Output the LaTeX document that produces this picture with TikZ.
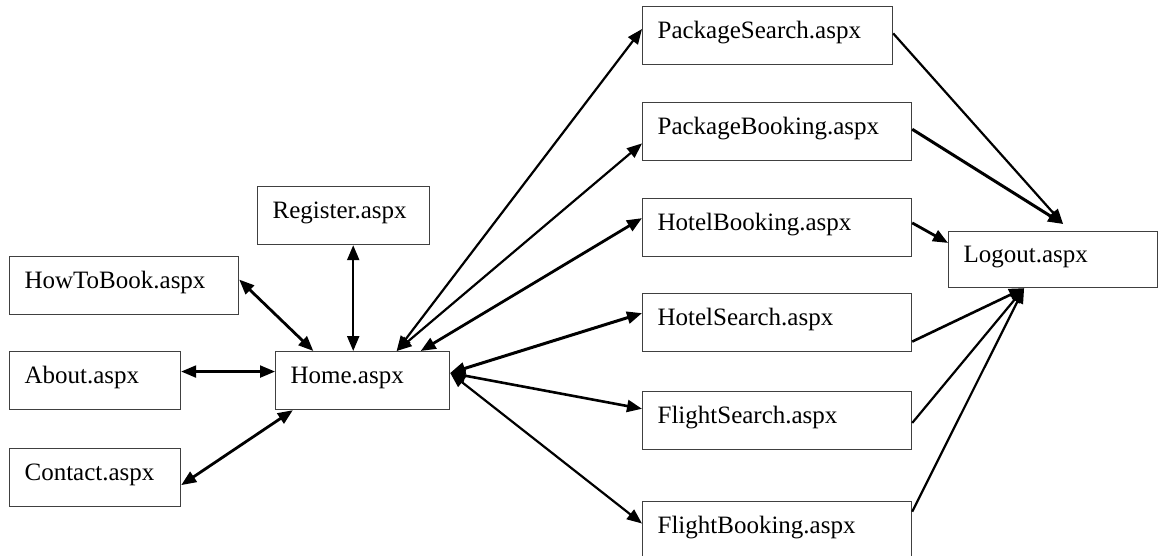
\documentclass[tikz,border=0pt]{standalone}
\usepackage{fontspec}
\setmainfont{Liberation Serif}
\usepackage{tikz}
\usetikzlibrary{arrows.meta}

\begin{document}
\begin{tikzpicture}[x=1pt,y=-1pt,>={Triangle[length=15pt,width=12pt]},line width=2.2pt,
	webpage/.style={draw=black!75,line width=1.2pt,anchor=north west,minimum height=58pt,
		inner xsep=15pt,inner ysep=0pt,text width=#1,align=left,text height=18pt,text depth=13pt,
		font=\fontsize{25}{30}\selectfont}]
  \useasboundingbox (0,0) rectangle (1159,556);

  			\node[webpage=142pt] (register) at (257,186) {Register.aspx};
  			\node[webpage=199pt] (howto)    at (9,256)   {HowToBook.aspx};
  			\node[webpage=141pt] (about)    at (9,351)   {About.aspx};
  			\node[webpage=144pt] (home)     at (275,351) {Home.aspx};
  			\node[webpage=141pt] (contact)  at (9,448)   {Contact.aspx};

  			\node[webpage=220pt] (pksearch) at (642,6)   {PackageSearch.aspx};
  			\node[webpage=239pt] (pkbook)   at (642,102) {PackageBooking.aspx};
  			\node[webpage=239pt] (htbook)   at (642,198) {HotelBooking.aspx};
  			\node[webpage=239pt] (htsearch) at (642,293) {HotelSearch.aspx};
  			\node[webpage=239pt] (flsearch) at (642,391) {FlightSearch.aspx};
  			\node[webpage=239pt] (flbook)   at (642,501) {FlightBooking.aspx};
  			\node[webpage=179pt,minimum height=56pt] (logout) at (948,231) {Logout.aspx};

  			\path[<->] (howto.3) edge[line width=2.8pt] (home.149)
        	         (register.-72) edge (register.-72 |- home.north)
        	         (about.6) edge (about.6 -| home.west)
        	         (contact.-5) edge[line width=2.8pt] (home.-157)
        	         (home.41) edge (pksearch.177)
        	         	 edge (pkbook.185)
        	         (home.27) edge[line width=2.8pt] (htbook.176)
        	         (home.5) edge[line width=3pt] (htsearch.176)
        	         	 edge[line width=2.6pt] (flsearch.175)
        	         	 edge (flbook.177);

  			\path[->] (pksearch.1) edge ([xshift=10pt,yshift=7pt]logout.north)
        	         (pkbook.1) edge[line width=3pt] ([xshift=10pt,yshift=7pt]logout.north)
        	         (htbook.2) edge[line width=2.8pt] (logout.171)
        	         (htsearch.-8) edge[line width=2.6pt] ([xshift=-29pt]logout.south)
        	         (flsearch.-1) edge ([xshift=-29pt]logout.south)
        	         (flbook.8) edge ([xshift=-29pt]logout.south);
\end{tikzpicture}
\end{document}
